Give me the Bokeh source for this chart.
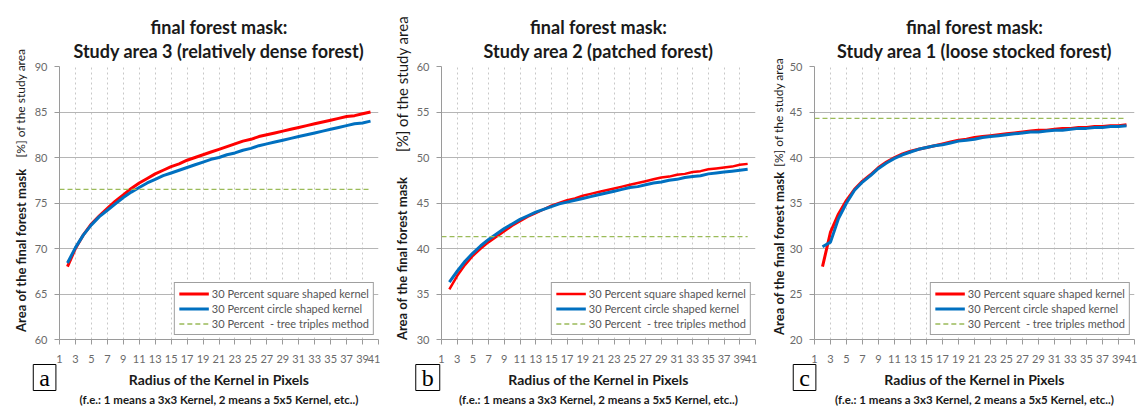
import math
from bokeh.plotting import figure
from bokeh.layouts import row
from bokeh.models import Range1d, FixedTicker, Label, Legend, LegendItem, Title
from bokeh.embed import file_html
from bokeh.resources import INLINE

# ---------------- data ----------------
radius = [2, 3, 4, 5, 6, 7, 8, 9, 10, 11, 12, 13, 14, 15, 16, 17, 18, 19, 20, 21,
          22, 23, 24, 25, 26, 27, 28, 29, 30, 31, 32, 33, 34, 35, 36, 37, 38, 39, 40]
x_ticks = [1, 3, 5, 7, 9, 11, 13, 15, 17, 19, 21, 23, 25, 27, 29, 31, 33, 35, 37, 39, 41]
triples_radius = [1, 40]

# Study area 3 (relatively dense forest)
square_a = [68.0, 70.0, 71.5, 72.7, 73.6, 74.4, 75.2, 75.9, 76.6, 77.2, 77.7, 78.2, 78.6, 79.0,
            79.3, 79.7, 80.0, 80.3, 80.6, 80.9, 81.2, 81.5, 81.8, 82.0, 82.3, 82.5, 82.7, 82.9,
            83.1, 83.3, 83.5, 83.7, 83.9, 84.1, 84.3, 84.5, 84.6, 84.8, 85.0]
circle_a = [68.4, 70.1, 71.5, 72.6, 73.5, 74.2, 74.9, 75.6, 76.2, 76.7, 77.2, 77.6, 78.0, 78.3,
            78.6, 78.9, 79.2, 79.5, 79.8, 80.0, 80.3, 80.5, 80.8, 81.0, 81.3, 81.5, 81.7, 81.9,
            82.1, 82.3, 82.5, 82.7, 82.9, 83.1, 83.3, 83.5, 83.7, 83.8, 84.0]
triples_a = [76.5, 76.5]
y_ticks_a = [60, 65, 70, 75, 80, 85, 90]

# Study area 2 (patched forest)
square_b = [35.5, 37.0, 38.2, 39.2, 40.0, 40.7, 41.3, 41.9, 42.5, 43.0, 43.5, 43.9, 44.3, 44.7,
            45.0, 45.3, 45.5, 45.8, 46.0, 46.2, 46.4, 46.6, 46.8, 47.0, 47.2, 47.4, 47.6, 47.8,
            47.9, 48.1, 48.2, 48.4, 48.5, 48.7, 48.8, 48.9, 49.0, 49.2, 49.3]
circle_b = [36.3, 37.5, 38.6, 39.5, 40.3, 41.0, 41.6, 42.2, 42.7, 43.2, 43.6, 44.0, 44.3, 44.6,
            44.9, 45.1, 45.3, 45.5, 45.7, 45.9, 46.1, 46.3, 46.5, 46.7, 46.8, 47.0, 47.2, 47.3,
            47.5, 47.6, 47.8, 47.9, 48.0, 48.2, 48.3, 48.4, 48.5, 48.6, 48.7]
triples_b = [41.3, 41.3]
y_ticks_b = [30, 35, 40, 45, 50, 55, 60]

# Study area 1 (loose stocked forest)
square_c = [28.0, 31.8, 33.8, 35.3, 36.5, 37.4, 38.1, 38.9, 39.5, 40.0, 40.4, 40.7, 40.9, 41.1,
            41.3, 41.5, 41.7, 41.9, 42.0, 42.2, 42.3, 42.4, 42.5, 42.6, 42.7, 42.8, 42.9, 43.0,
            43.0, 43.1, 43.2, 43.2, 43.3, 43.3, 43.4, 43.4, 43.5, 43.5, 43.6]
circle_c = [30.2, 30.7, 33.3, 35.0, 36.4, 37.3, 38.0, 38.8, 39.4, 39.9, 40.3, 40.6, 40.9, 41.1,
            41.3, 41.4, 41.6, 41.8, 41.9, 42.0, 42.2, 42.3, 42.4, 42.5, 42.6, 42.7, 42.8, 42.8,
            42.9, 43.0, 43.0, 43.1, 43.2, 43.2, 43.3, 43.3, 43.4, 43.4, 43.5]
triples_c = [44.3, 44.3]
y_ticks_c = [20, 25, 30, 35, 40, 45, 50]

titles = ["Study area 3 (relatively dense forest)",
          "Study area 2 (patched forest)",
          "Study area 1 (loose stocked forest)"]
letters = ["a", "b", "c"]
legend_labels = ["30 Percent square shaped kernel",
                 "30 Percent circle shaped kernel",
                 "30 Percent  - tree triples method"]

RED = "#FF0000"
BLUE = "#0070C0"
GREEN = "#9BBB59"
FONT = "Lato"
HEIGHT = 407
B_TOP = 66
B_BOTTOM = 68
B_LEFT = 80          # left border holds axis + y-title + panel letter
FRAME_H = HEIGHT - B_TOP - B_BOTTOM


def make_panel(width, shift, border_right, y_ticks, square, circle, triples,
               subtitle, letter, title_offset, red_width, ylab_dx, bold_end_frac,
               reg_start_frac, reg_size, letter_dx):
    lo, hi = y_ticks[0], y_ticks[-1]
    frame_w = width - B_LEFT - border_right
    px_x = 40.0 / frame_w            # data units per pixel (x)
    px_y = (hi - lo) / FRAME_H       # data units per pixel (y)

    p = figure(width=width, height=HEIGHT, output_backend="svg", toolbar_location=None,
               x_range=Range1d(1, 41), y_range=Range1d(lo, hi),
               min_border_left=B_LEFT, min_border_right=border_right,
               min_border_top=B_TOP, min_border_bottom=B_BOTTOM,
               margin=(0, 0, 0, shift))
    p.outline_line_color = None
    p.border_fill_alpha = 0.0

    # axes
    p.xaxis.ticker = FixedTicker(ticks=x_ticks)
    p.yaxis.ticker = FixedTicker(ticks=y_ticks)
    for ax in (p.xaxis, p.yaxis):
        ax.axis_line_color = "#9A9A9A"
        ax.major_tick_line_color = "#9A9A9A"
        ax.minor_tick_line_color = None
        ax.major_tick_in = 0
        ax.major_tick_out = 5
        ax.major_label_text_font = FONT
        ax.major_label_text_font_size = "11px"
        ax.major_label_text_color = "#6A6A6A"
    p.yaxis.major_label_standoff = 7
    p.xaxis.major_label_standoff = 10

    # grids
    p.ygrid.ticker = FixedTicker(ticks=y_ticks)
    p.ygrid.grid_line_color = "#B5B5B5"
    p.xgrid.ticker = FixedTicker(ticks=x_ticks)
    p.xgrid.grid_line_color = "#C8C8C8"
    p.xgrid.grid_line_dash = "2 3"

    r_sq = p.line(radius, square, line_color=RED, line_width=red_width)
    r_ci = p.line(radius, circle, line_color=BLUE, line_width=3)
    r_tr = p.line(triples_radius, triples, line_color=GREEN, line_width=1.3, line_dash="5 3")

    legend = Legend(items=[LegendItem(label=legend_labels[0], renderers=[r_sq]),
                           LegendItem(label=legend_labels[1], renderers=[r_ci]),
                           LegendItem(label=legend_labels[2], renderers=[r_tr])],
                    location="bottom_right")
    legend.margin = 4
    legend.padding = 4
    legend.spacing = 2
    legend.label_height = 13
    legend.glyph_height = 13
    legend.glyph_width = 30
    legend.label_standoff = 3
    legend.label_text_font = FONT
    legend.label_text_font_size = "11px"
    legend.label_text_color = "#555555"
    legend.border_line_color = "#404040"
    legend.background_fill_color = "white"
    legend.background_fill_alpha = 1.0
    p.add_layout(legend, "center")

    # titles (first added is closest to the frame)
    p.add_layout(Title(text=subtitle, align="center", vertical_align="top", standoff=5,
                       offset=title_offset, text_font=FONT, text_font_style="bold",
                       text_font_size="18px", text_color="#1A1A1A"), "above")
    p.add_layout(Title(text="final forest mask:", align="center", vertical_align="bottom",
                       standoff=0, offset=title_offset, text_font=FONT,
                       text_font_style="bold", text_font_size="18px",
                       text_color="#1A1A1A"), "above")

    # x axis titles
    p.add_layout(Title(text="Radius of the Kernel in Pixels", align="center", standoff=6,
                       text_font=FONT, text_font_style="bold", text_font_size="14px",
                       text_color="#1A1A1A"), "below")
    p.add_layout(Title(text="(f.e.: 1 means a 3x3 Kernel, 2 means a 5x5 Kernel, etc..)",
                       align="center", standoff=0, text_font=FONT, text_font_style="bold",
                       text_font_size="11.5px", text_color="#1A1A1A"), "below")

    # y axis title: bold part + regular part
    ylab_x = 1 + ylab_dx * px_x
    p.add_layout(Label(x=ylab_x, y=lo + bold_end_frac * (hi - lo),
                       text="Area of the final forest mask", angle=math.pi / 2,
                       text_align="right", text_baseline="middle", text_font=FONT,
                       text_font_style="bold", text_font_size="13px",
                       text_color="#1A1A1A"), "left")
    p.add_layout(Label(x=ylab_x, y=lo + reg_start_frac * (hi - lo),
                       text="[%] of the study area", angle=math.pi / 2,
                       text_align="left", text_baseline="middle", text_font=FONT,
                       text_font_size=reg_size, text_color="#1A1A1A"), "left")

    # panel letter
    p.add_layout(Label(x=1 + letter_dx * px_x, y=lo - 38 * px_y,
                       text=letter, text_align="center", text_baseline="middle",
                       text_font="Liberation Serif", text_font_size="24px", text_color="black",
                       border_line_color="black", border_line_width=1,
                       background_fill_color="white",
                       padding=dict(left=6, right=6, top=0, bottom=0)), "left")
    return p


# panel a: frame 57..378, panel b: frame 435..755, panel c: frame 812..1134
pa = make_panel(403, -23, 2, y_ticks_a, square_a, circle_a, triples_a, titles[0], letters[0],
                -4, 3, -39, 0.626, 0.667, "12px", -15)
pb = make_panel(402, -25, 2, y_ticks_b, square_b, circle_b, triples_b, titles[1], letters[1],
                -20, 2.5, -40, 0.596, 0.687, "15px", -14)
pc = make_panel(405, -25, 3, y_ticks_c, square_c, circle_c, triples_c, titles[2], letters[2],
                2, 3, -36, 0.615, 0.633, "12px", -10)

p = row(pa, pb, pc)
open("out.html", "w").write(file_html(p, INLINE))
